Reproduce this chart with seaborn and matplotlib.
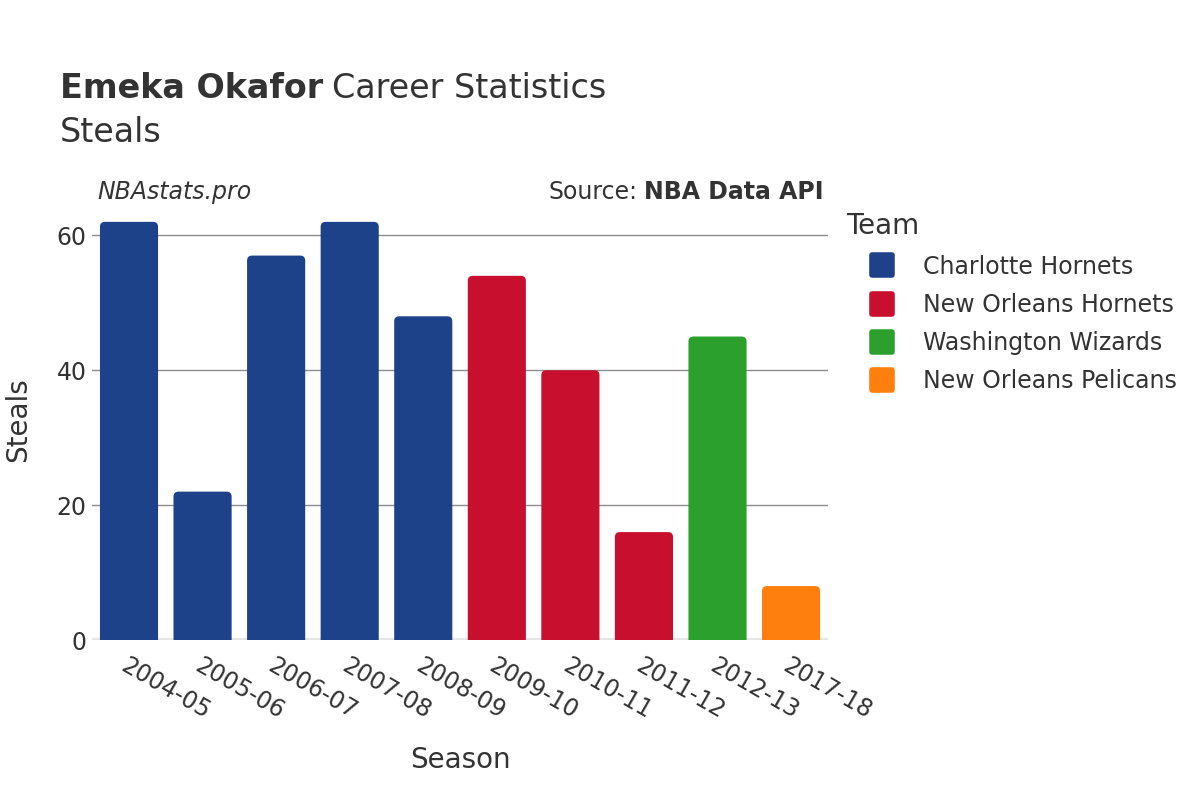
import matplotlib
matplotlib.use("Agg")
import matplotlib.pyplot as plt
from matplotlib.patches import FancyBboxPatch
from matplotlib.lines import Line2D
from matplotlib.markers import MarkerStyle
import seaborn as sns
import pandas as pd

# Datos
seasons = ["2004-05", "2005-06", "2006-07", "2007-08", "2008-09",
           "2009-10", "2010-11", "2011-12", "2012-13", "2017-18"]
steals = [62, 22, 57, 62, 48, 54, 40, 16, 45, 8]
teams = ["Charlotte Hornets"] * 5 + ["New Orleans Hornets"] * 3 + \
        ["Washington Wizards", "New Orleans Pelicans"]
team_order = ["Charlotte Hornets", "New Orleans Hornets",
              "Washington Wizards", "New Orleans Pelicans"]
team_colors = ["#1D428A", "#C8102E", "#2CA02C", "#FF7F0E"]
y_ticks = [0, 20, 40, 60]

df = pd.DataFrame({"Season": seasons, "Steals": steals, "Team": teams})
palette = dict(zip(team_order, team_colors))

sns.set_theme(style="white")
plt.rcParams["font.family"] = ["DejaVu Sans"]
text_color = "#333333"

fig = plt.figure(figsize=(12, 8), dpi=100)
ax = fig.add_axes([92 / 1200, 160 / 800, (828 - 92) / 1200, (640 - 205) / 800])

sns.barplot(data=df, x="Season", y="Steals", hue="Team", hue_order=team_order,
            palette=palette, dodge=False, width=0.79, saturation=1,
            legend=False, ax=ax, zorder=3)

ax.set_ylim(0, 64.5)
ax.set_xlim(-0.503, len(seasons) - 0.498)

# barras con esquinas redondeadas
fig.canvas.draw()
px_x = ax.transData.transform((1, 0))[0] - ax.transData.transform((0, 0))[0]
px_y = ax.transData.transform((0, 1))[1] - ax.transData.transform((0, 0))[1]
for p in list(ax.patches):
    x, y = p.get_x(), p.get_y()
    w, h = p.get_width(), p.get_height()
    if h <= 0:
        continue
    r = 5 / px_x
    rb = FancyBboxPatch((x, y - 1), w, h + 1,
                        boxstyle=f"round,pad=0,rounding_size={r}",
                        mutation_aspect=px_x / px_y,
                        facecolor=p.get_facecolor(), edgecolor="none",
                        zorder=3, clip_on=True)
    ax.add_patch(rb)
    p.remove()

ax.set_yticks(y_ticks)
ax.yaxis.grid(True, color="#8c8c8c", linewidth=1, zorder=0)
ax.xaxis.grid(False)
ax.axhline(0, color="#e6e6e6", linewidth=3, zorder=2)
for s in ax.spines.values():
    s.set_visible(False)

ax.tick_params(axis="y", labelsize=17, colors=text_color, length=0, pad=4)
ax.tick_params(axis="x", labelsize=17, colors=text_color, length=0, pad=10)
for lbl in ax.get_xticklabels():
    lbl.set_rotation(-30)
    lbl.set_ha("left")
    lbl.set_rotation_mode("anchor")

ax.set_xlabel("")
ax.set_ylabel("")
fig.text(460 / 1200, 1 - 760 / 800, "Season", fontsize=20, color=text_color,
         ha="center", va="center")
fig.text(18 / 1200, 1 - 420 / 800, "Steals", fontsize=20, color=text_color,
         ha="center", va="center", rotation=90)

# Título
t1 = fig.text(60 / 1200, 1 - 88 / 800, "Emeka Okafor", fontsize=24,
              fontweight="bold", color=text_color, va="center")
fig.canvas.draw()
bb = t1.get_window_extent()
fig.text((bb.x1 + 9) / 1200, 1 - 88 / 800, "Career Statistics", fontsize=24,
         color=text_color, va="center")
fig.text(60 / 1200, 1 - 132 / 800, "Steals", fontsize=24, color=text_color,
         va="center")

fig.text(97 / 1200, 1 - 192 / 800, "NBAstats.pro", fontsize=17,
         style="italic", color=text_color, va="center")
s2 = fig.text(824 / 1200, 1 - 192 / 800, "NBA Data API", fontsize=17,
              fontweight="bold", color=text_color, va="center", ha="right")
fig.canvas.draw()
bb2 = s2.get_window_extent()
fig.text((bb2.x0 - 7) / 1200, 1 - 192 / 800, "Source:", fontsize=17,
         color=text_color, va="center", ha="right")

# Leyenda
mk = MarkerStyle("s", joinstyle="round")
handles = [Line2D([0], [0], marker=mk, linestyle="none", markersize=14,
                  markeredgewidth=4, markerfacecolor=c, markeredgecolor=c)
           for c in team_colors]
leg = fig.legend(handles, team_order, title="Team", loc="upper left",
                 bbox_to_anchor=(837 / 1200, 1 - 203 / 800), frameon=False,
                 fontsize=17, title_fontsize=20, handlelength=3.0,
                 handletextpad=0.25, labelspacing=0.6, borderaxespad=0)
leg._legend_box.align = "left"
for t in leg.get_texts():
    t.set_color(text_color)
leg.get_title().set_color(text_color)

fig.savefig("out.png", dpi=100, facecolor="white")
